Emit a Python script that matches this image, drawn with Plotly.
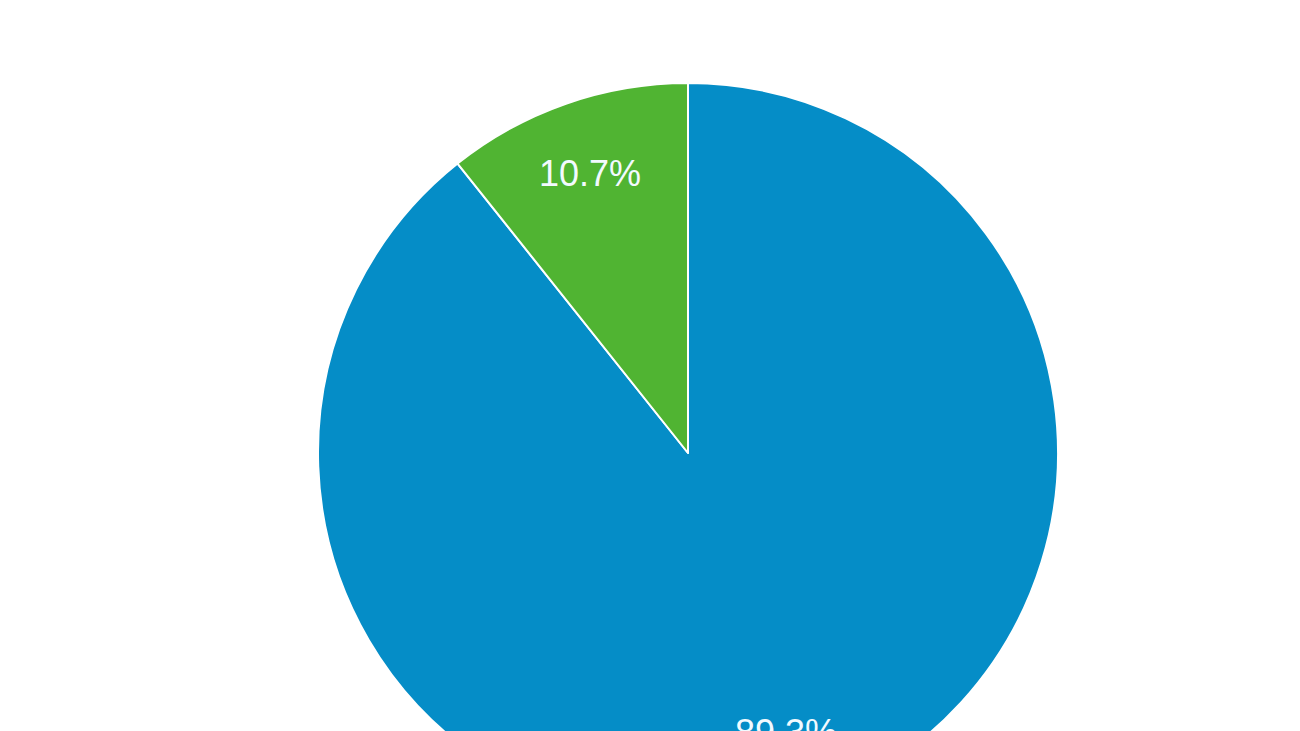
import math
import plotly.graph_objects as go

labels = ["Blue segment", "Green segment"]
values = [89.3, 10.7]
colors = ["#058DC7", "#50B432"]

W, H = 1300, 900
cx, cy, r = 688, 453, 370
label_dist = 0.8  # fraction of radius for inside labels

dom_x = [(cx - r) / W, (cx + r) / W]
dom_y = [1 - (cy + r) / H, 1 - (cy - r) / H]

fig = go.Figure(go.Pie(
    labels=labels,
    values=values,
    sort=False,
    direction="clockwise",
    rotation=0,
    marker=dict(colors=colors, line=dict(color="white", width=2)),
    textinfo="none",
    hoverinfo="label+percent",
    domain=dict(x=dom_x, y=dom_y),
))

# data labels placed along each slice's mid-angle
total = sum(values)
start = 0.0
annotations = []
for v in values:
    frac = v / total
    mid = (start + frac / 2) * 2 * math.pi  # clockwise from 12 o'clock
    start += frac
    px = cx + label_dist * r * math.sin(mid)
    py = cy - label_dist * r * math.cos(mid)
    annotations.append(dict(
        x=px / W, y=1 - py / H, xref="paper", yref="paper",
        text=f"{frac * 100:.1f}%", showarrow=False,
        xanchor="center", yanchor="middle",
        font=dict(family="Liberation Sans, Arial, sans-serif", size=36, color="#f2faff"),
    ))

fig.update_layout(
    width=W, height=H,
    margin=dict(l=0, r=0, t=0, b=0),
    showlegend=False,
    paper_bgcolor="white",
    plot_bgcolor="white",
    annotations=annotations,
)

fig.write_html(
    "out.html",
    config={"displayModeBar": False},
    post_script="document.body.style.overflow='hidden';document.body.style.margin='0';",
)
